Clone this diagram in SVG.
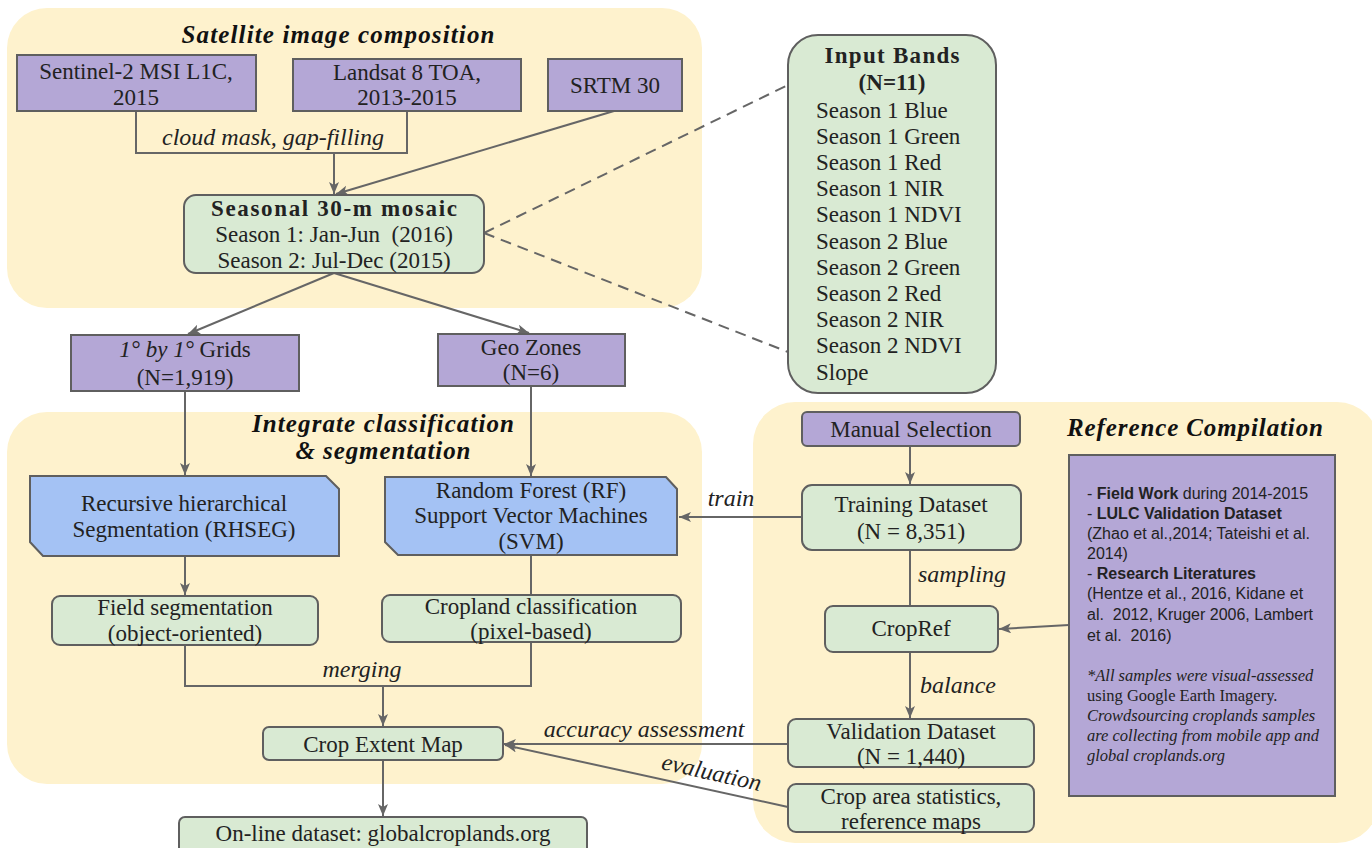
<svg xmlns="http://www.w3.org/2000/svg" width="1372" height="848" viewBox="0 0 1372 848">
<defs>
<marker id="arr" markerUnits="userSpaceOnUse" markerWidth="13" markerHeight="11" refX="12" refY="5" orient="auto">
<path d="M0,0 L12,5 L0,10 L3,5 z" fill="#666"/>
</marker>
<style>
.panel{fill:#fef2cd;stroke:none}
.pur{fill:#b4a7d6;stroke:#5f5f5f;stroke-width:2}
.grn{fill:#d9ead3;stroke:#5f5f5f;stroke-width:2}
.blu{fill:#a4c2f4;stroke:#5f5f5f;stroke-width:2}
.t{font-family:"Liberation Serif",serif;font-size:23px;fill:#222;text-anchor:middle}
.b{font-weight:bold}
.tl{font-family:"Liberation Serif",serif;font-size:23px;fill:#222}
.title{font-family:"Liberation Serif",serif;font-size:25px;font-weight:bold;font-style:italic;fill:#111;text-anchor:middle}
.lab{font-family:"Liberation Serif",serif;font-size:24px;font-style:italic;fill:#222;text-anchor:middle}
.sans{font-family:"Liberation Sans",Arial,sans-serif;font-size:16px;fill:#222}
.ser{font-family:"Liberation Serif",serif;font-size:16.5px;fill:#222}
.ln{fill:none;stroke:#666;stroke-width:2}
.dash{fill:none;stroke:#666;stroke-width:2;stroke-dasharray:11 7}
</style>
</defs>
<rect width="1372" height="848" fill="#fff"/>
<g id="panels">
<rect class="panel" x="7" y="8" width="695" height="300" rx="40"/>
<rect class="panel" x="7" y="412" width="695" height="372" rx="40"/>
<rect class="panel" x="753" y="402" width="626" height="441" rx="42"/>
<text class="title" x="338" y="43" textLength="313">Satellite image composition</text>
<text class="title" x="383" y="432" textLength="262">Integrate classification</text>
<text class="title" x="383" y="459" textLength="175">&amp; segmentation</text>
<text class="title" x="1195" y="436" textLength="256">Reference Compilation</text>
</g>
<g id="connectors">
<path class="ln" d="M136,111 V153 H407 V111"/>
<path class="ln" d="M334,153 V194" marker-end="url(#arr)"/>
<path class="ln" d="M614,111 L336,194" marker-end="url(#arr)"/>
<path class="ln" d="M334,273 L188,334" marker-end="url(#arr)"/>
<path class="ln" d="M334,273 L529,333" marker-end="url(#arr)"/>
<path class="dash" d="M484,233 L788,85"/>
<path class="dash" d="M484,233 L788,352"/>
<path class="ln" d="M185,391 V475" marker-end="url(#arr)"/>
<path class="ln" d="M531,386 V476" marker-end="url(#arr)"/>
<path class="ln" d="M185,556 V595" marker-end="url(#arr)"/>
<path class="ln" d="M531,555 V595"/>
<path class="ln" d="M185,645 V686 H531 V642"/>
<path class="ln" d="M383,686 V726" marker-end="url(#arr)"/>
<path class="ln" d="M383,760 V816" marker-end="url(#arr)"/>
<path class="ln" d="M802,517 H679" marker-end="url(#arr)"/>
<path class="ln" d="M910,446 V484" marker-end="url(#arr)"/>
<path class="ln" d="M910,550 V606"/>
<path class="ln" d="M1069,625 L999,629" marker-end="url(#arr)"/>
<path class="ln" d="M910,652 V718" marker-end="url(#arr)"/>
<path class="ln" d="M788,744 H504" marker-end="url(#arr)"/>
<path class="ln" d="M788,807 L505,745" marker-end="url(#arr)"/>
<text class="lab" x="273" y="145">cloud mask, gap-filling</text>
<text class="lab" x="362" y="677">merging</text>
<text class="lab" x="731" y="506">train</text>
<text class="lab" x="644" y="737">accuracy assessment</text>
<text class="lab" x="710" y="780" transform="rotate(12.6 710 780)">evaluation</text>
<text class="lab" x="918" y="582" style="text-anchor:start">sampling</text>
<text class="lab" x="920" y="693" style="text-anchor:start">balance</text>
</g>
<g id="sentinel">
<rect class="pur" x="17" y="55" width="239" height="56"/>
<text class="t" x="136" y="79">Sentinel-2 MSI L1C,</text>
<text class="t" x="136" y="105">2015</text>
</g>
<g id="landsat">
<rect class="pur" x="293" y="59" width="228" height="52"/>
<text class="t" x="407" y="80">Landsat 8 TOA,</text>
<text class="t" x="407" y="105">2013-2015</text>
</g>
<g id="srtm">
<rect class="pur" x="548" y="59" width="134" height="52"/>
<text class="t" x="615" y="93">SRTM 30</text>
</g>
<g id="mosaic">
<rect class="grn" x="184" y="195" width="300" height="78" rx="12"/>
<text class="t b" x="334" y="216" textLength="246">Seasonal 30-m mosaic</text>
<text class="t" x="334" y="242" xml:space="preserve">Season 1: Jan-Jun  (2016)</text>
<text class="t" x="334" y="268">Season 2: Jul-Dec (2015)</text>
</g>
<g id="inputbands">
<rect class="grn" x="788" y="35" width="208" height="358" rx="30"/>
<text class="t b" x="892" y="63" textLength="135">Input Bands</text>
<text class="t b" x="892" y="90">(N=11)</text>
<text class="tl" x="816" y="118">Season 1 Blue</text>
<text class="tl" x="816" y="144">Season 1 Green</text>
<text class="tl" x="816" y="170">Season 1 Red</text>
<text class="tl" x="816" y="196">Season 1 NIR</text>
<text class="tl" x="816" y="222">Season 1 NDVI</text>
<text class="tl" x="816" y="249">Season 2 Blue</text>
<text class="tl" x="816" y="275">Season 2 Green</text>
<text class="tl" x="816" y="301">Season 2 Red</text>
<text class="tl" x="816" y="327">Season 2 NIR</text>
<text class="tl" x="816" y="353">Season 2 NDVI</text>
<text class="tl" x="816" y="380">Slope</text>
</g>
<g id="grids">
<rect class="pur" x="71" y="335" width="228" height="56"/>
<text class="t" x="185" y="357"><tspan font-style="italic">1° by 1°</tspan> Grids</text>
<text class="t" x="185" y="385">(N=1,919)</text>
</g>
<g id="geozones">
<rect class="pur" x="438" y="334" width="187" height="52"/>
<text class="t" x="531" y="355">Geo Zones</text>
<text class="t" x="531" y="380">(N=6)</text>
</g>
<g id="rhseg">
<path class="blu" d="M30,476 H326 L339,489 V556 H43 L30,542 Z"/>
<text class="t" x="184" y="511">Recursive hierarchical</text>
<text class="t" x="184" y="537">Segmentation (RHSEG)</text>
</g>
<g id="rfsvm">
<path class="blu" d="M385,477 H666 L677,489 V555 H398 L385,542 Z"/>
<text class="t" x="531" y="498">Random Forest (RF)</text>
<text class="t" x="531" y="523">Support Vector Machines</text>
<text class="t" x="531" y="549">(SVM)</text>
</g>
<g id="fieldseg">
<rect class="grn" x="52" y="596" width="266" height="49" rx="8"/>
<text class="t" x="185" y="615">Field segmentation</text>
<text class="t" x="185" y="641">(object-oriented)</text>
</g>
<g id="cropland">
<rect class="grn" x="382" y="595" width="299" height="47" rx="8"/>
<text class="t" x="531" y="614">Cropland classification</text>
<text class="t" x="531" y="639">(pixel-based)</text>
</g>
<g id="cropextent">
<rect class="grn" x="263" y="727" width="240" height="33" rx="6"/>
<text class="t" x="383" y="752">Crop Extent Map</text>
</g>
<g id="online">
<rect class="grn" x="179" y="817" width="408" height="40" rx="6"/>
<text class="t" x="383" y="841">On-line dataset: globalcroplands.org</text>
</g>
<g id="manual">
<rect class="pur" x="802" y="412" width="218" height="34" rx="5"/>
<text class="t" x="911" y="437">Manual Selection</text>
</g>
<g id="training">
<rect class="grn" x="802" y="485" width="219" height="65" rx="10"/>
<text class="t" x="911" y="512">Training Dataset</text>
<text class="t" x="911" y="539">(N = 8,351)</text>
</g>
<g id="cropref">
<rect class="grn" x="825" y="606" width="173" height="46" rx="8"/>
<text class="t" x="911" y="636">CropRef</text>
</g>
<g id="validation">
<rect class="grn" x="788" y="719" width="246" height="48" rx="8"/>
<text class="t" x="911" y="739">Validation Dataset</text>
<text class="t" x="911" y="764">(N = 1,440)</text>
</g>
<g id="croparea">
<rect class="grn" x="788" y="784" width="246" height="48" rx="8"/>
<text class="t" x="911" y="804">Crop area statistics,</text>
<text class="t" x="911" y="829">reference maps</text>
</g>
<g id="refinfo">
<rect class="pur" x="1069" y="455" width="266" height="341"/>
<text class="sans" x="1087" y="499">- <tspan font-weight="bold">Field Work</tspan> during 2014-2015</text>
<text class="sans" x="1087" y="519">- <tspan font-weight="bold">LULC Validation Dataset</tspan></text>
<text class="sans" x="1087" y="539">(Zhao et al.,2014; Tateishi et al.</text>
<text class="sans" x="1087" y="559">2014)</text>
<text class="sans" x="1087" y="579">- <tspan font-weight="bold">Research Literatures</tspan></text>
<text class="sans" x="1087" y="599">(Hentze et al., 2016, Kidane et</text>
<text class="sans" x="1087" y="620" xml:space="preserve">al.  2012, Kruger 2006, Lambert</text>
<text class="sans" x="1087" y="641" xml:space="preserve">et al.  2016)</text>
<text class="ser" x="1087" y="681" font-style="italic">*All samples were visual-assessed</text>
<text class="ser" x="1087" y="701">using Google Earth Imagery.</text>
<text class="ser" x="1087" y="721" font-style="italic">Crowdsourcing croplands samples</text>
<text class="ser" x="1087" y="741" font-style="italic">are collecting from mobile app and</text>
<text class="ser" x="1087" y="761" font-style="italic">global croplands.org</text>
</g>
</svg>
